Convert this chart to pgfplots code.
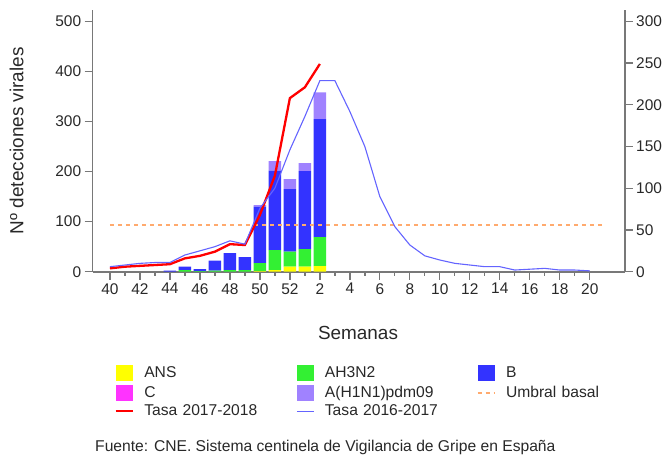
\documentclass[border=0pt]{standalone}
\usepackage{fontspec}
\setmainfont{Liberation Sans}
\usepackage{pgfplots}
\usepackage{pgfplotstable}
\pgfplotsset{compat=1.18}
\definecolor{cANS}{RGB}{255,255,0}
\definecolor{cH3}{RGB}{51,240,51}
\definecolor{cB}{RGB}{51,51,255}
\definecolor{cC}{RGB}{255,51,255}
\definecolor{cH1}{RGB}{160,130,255}
\definecolor{cRed}{RGB}{255,0,0}
\definecolor{cBlue}{RGB}{100,100,255}
\definecolor{cUmb}{RGB}{255,170,110}
\definecolor{axgray}{RGB}{120,120,120}
\definecolor{txt}{RGB}{40,40,40}

% weeks: index 0..12 = weeks 40..52, 13.. = weeks 1..
\pgfplotstableread{
x ans h3 b c h1
0 0 0 0 0 0
1 0 0 0 0 0
2 0 0 0 0 0
3 0 0 0 0 0
4 0 0 2 0 0
5 0 3 7 0 0
6 0 1 4 0 0
7 0 2 20 0 0
8 0 3 34 0 0
9 0 3 26 0 0
10 1 16 113 0 3
11 3 40 159 0 19
12 10 30 125 0 20
13 10 35 156 0 16
14 11 58 236 0 53
}\bars

\pgfplotstableread{
x t
0 4
1 6
2 7
3 8
4 9
5 16
6 19
7 24
8 33
9 32
10 68
11 115
12 208
13 221
14 249
}\tasaA

\pgfplotstableread{
x t
0 6
1 8
2 10
3 11
4 11
5 20
6 25
7 30
8 37
9 33
10 76
11 100
12 146
13 186
14 229
15 229
16 192
17 150
18 90
19 54
20 32
21 19
22 14
23 10
24 8
25 6
26 6
27 2
28 3
29 4
30 2
31 2
32 1
}\tasaB

\pgfplotstableread{
x t
0 56
33 56
}\umbral

\pgfplotsset{
  common/.style={
    scale only axis, width=532bp, height=262bp,
    xmin=-1.15, xmax=34.33,
    tick align=outside, major tick length=8bp, minor tick length=4bp,
    axis line style={axgray, line width=1.6bp},
    tick style={axgray, line width=1.3bp},
    ticklabel style={font=\fontsize{15.5}{17}\selectfont, text=txt},
    /pgf/number format/assume math mode=true,
  },
  sqleg/.style={legend image code/.code={\fill[##1, draw=none] (0bp,-8bp) rectangle (17bp,8bp);}},
  lineleg/.style={legend image code/.code={\draw[##1] (0bp,0bp) -- (17bp,0bp);}},
}

\begin{document}
\begin{tikzpicture}
\useasboundingbox (-92.7bp,-184.3bp) rectangle (575.3bp,271.7bp);
\begin{axis}[common,
  axis y line*=left, axis x line*=bottom,
  ymin=0, ymax=523.4, ytick={0,100,...,500},
  xtick={0,2,...,32},
  xticklabels={40,42,44,46,48,50,52,2,4,6,8,10,12,14,16,18,20},
  minor xtick={1,3,...,31},
  ybar stacked, bar width=12.5bp,
  ylabel={Nº detecciones virales},
  ylabel style={at={(axis description cs:-0.1432,0.5)}, anchor=center, font=\fontsize{19}{22}\selectfont, text=txt},
  xlabel={Semanas},
  xlabel style={at={(axis description cs:0.4987,-0.234)}, anchor=center, font=\fontsize{19}{22}\selectfont, text=txt},
]
\addplot[fill=cANS, draw=none] table[x=x,y=ans]{\bars};
\addplot[fill=cH3, draw=none] table[x=x,y=h3]{\bars};
\addplot[fill=cB, draw=none] table[x=x,y=b]{\bars};
\addplot[fill=cC, draw=none] table[x=x,y=c]{\bars};
\addplot[fill=cH1, draw=none] table[x=x,y=h1]{\bars};
\end{axis}
\begin{axis}[common,
  axis y line*=right, axis x line=none,
  ymin=0, ymax=314, ytick={0,50,...,300},
  legend columns=3,
  legend style={at={(axis description cs:0.041,-0.356)}, anchor=north west,
    draw=none, fill=none, inner sep=0pt, outer sep=0pt,
    column sep=0pt, row sep=4bp,
    nodes={inner sep=0pt, text width=140bp, align=left, font=\fontsize{15.7}{17}\selectfont, text=txt},
    /tikz/every odd column/.append style={column sep=10.5bp},
    /tikz/every even column/.append style={column sep=12bp}},
]
\addlegendimage{sqleg, fill=cANS}
\addlegendentry{ANS}
\addlegendimage{sqleg, fill=cH3}
\addlegendentry{AH3N2}
\addlegendimage{sqleg, fill=cB}
\addlegendentry{B}
\addlegendimage{sqleg, fill=cC}
\addlegendentry{C}
\addlegendimage{sqleg, fill=cH1}
\addlegendentry{A(H1N1)pdm09}
\addplot[cUmb, line width=1.6bp, dash pattern=on 4bp off 4bp, lineleg] table[x=x,y=t]{\umbral};
\addlegendentry{Umbral basal}
\addplot[cRed, line width=2.3bp, lineleg] table[x=x,y=t]{\tasaA};
\addlegendentry{Tasa 2017-2018}
\addplot[cBlue, line width=1.1bp, lineleg] table[x=x,y=t]{\tasaB};
\addlegendentry{Tasa 2016-2017}
\end{axis}
\node[anchor=base west, inner sep=0pt, font=\fontsize{15.7}{17}\selectfont, text=txt] at (2.3bp,-179.3bp) {Fuente: CNE. Sistema centinela de Vigilancia de Gripe en España};
\end{tikzpicture}
\end{document}
